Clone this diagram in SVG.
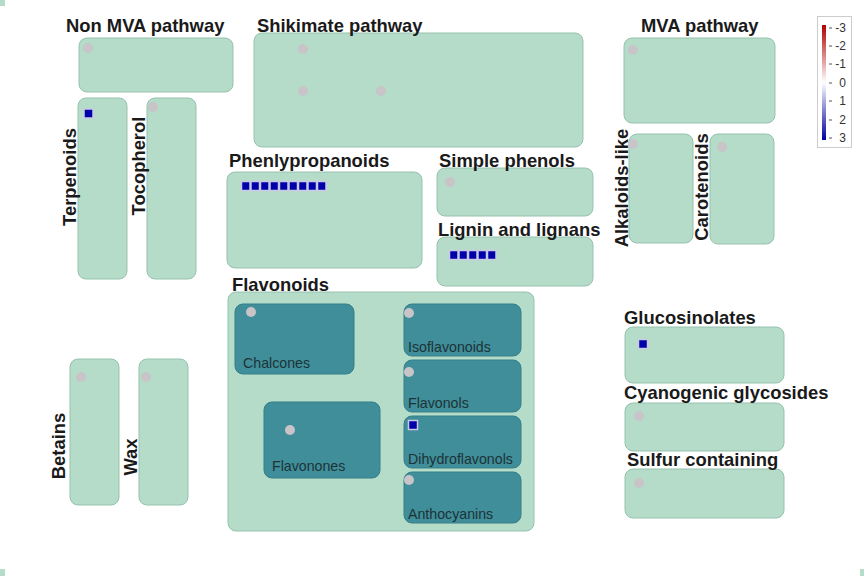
<svg xmlns="http://www.w3.org/2000/svg" width="864" height="576" viewBox="0 0 864 576">
<style>
.box{fill:#b4dcc8;stroke:#97c2ae;stroke-width:1}
.dark{fill:#3f8e99;stroke:#367f8a;stroke-width:1}
.t{font-family:"Liberation Sans",Arial,sans-serif;font-weight:bold;font-size:18.4px;fill:#1a1a1a}
.s{font-family:"Liberation Sans",Arial,sans-serif;font-size:14.2px;fill:#1d3338}
.dot{fill:#c8c4c8}
.sq{fill:#0000a8;stroke:#c9c9e6;stroke-width:1.5}
.lg{font-family:"Liberation Sans",Arial,sans-serif;font-size:12px;fill:#333;text-anchor:end}
.tick{stroke:#555;stroke-width:1}
</style>
<defs>
<linearGradient id="grad" x1="0" y1="0" x2="0" y2="1">
<stop offset="0" stop-color="#b00000"/>
<stop offset="0.5" stop-color="#ffffff"/>
<stop offset="1" stop-color="#0000a0"/>
</linearGradient>
</defs>
<rect width="864" height="576" fill="#ffffff"/>
<rect x="0" y="0" width="5" height="6" fill="#b4dcc8"/>
<rect x="0" y="569" width="5" height="7" fill="#b4dcc8"/>
<rect x="860" y="569" width="4" height="7" fill="#b4dcc8"/>

<g id="connectors"></g>

<g id="non-mva">
<rect class="box" x="79" y="38" width="154" height="54" rx="8"/>
<text class="t" x="66" y="32">Non MVA pathway</text>
<circle class="dot" cx="88" cy="48" r="5"/>
</g>
<g id="terpenoids">
<rect class="box" x="78" y="98" width="49" height="181" rx="8"/>
<text class="t" transform="rotate(-90 76 177)" x="76" y="177" text-anchor="middle">Terpenoids</text>
<rect class="sq" x="84" y="109" width="9" height="9"/>
</g>
<g id="tocopherol">
<rect class="box" x="147" y="98" width="49" height="181" rx="8"/>
<text class="t" transform="rotate(-90 145 166)" x="145" y="166" text-anchor="middle">Tocopherol</text>
<circle class="dot" cx="153" cy="107" r="5"/>
</g>
<g id="shikimate">
<rect class="box" x="254" y="33" width="329" height="114" rx="8"/>
<text class="t" x="257" y="32">Shikimate pathway</text>
<circle class="dot" cx="303" cy="49" r="5"/>
<circle class="dot" cx="303" cy="91" r="5"/>
<circle class="dot" cx="381" cy="91" r="5"/>
</g>
<g id="mva">
<rect class="box" x="624" y="38" width="151" height="85" rx="8"/>
<text class="t" x="641" y="32">MVA pathway</text>
<circle class="dot" cx="633" cy="50" r="5"/>
</g>
<g id="alkaloids">
<rect class="box" x="629" y="134" width="64" height="109" rx="8"/>
<text class="t" transform="rotate(-90 628 188)" x="628" y="188" text-anchor="middle">Alkaloids-like</text>
<circle class="dot" cx="633" cy="144" r="5"/>
</g>
<g id="carotenoids">
<rect class="box" x="710" y="134" width="64" height="110" rx="8"/>
<text class="t" transform="rotate(-90 708 187)" x="708" y="187" text-anchor="middle">Carotenoids</text>
<circle class="dot" cx="722" cy="147" r="5"/>
</g>
<g id="phenylpropanoids">
<rect class="box" x="227" y="172" width="195" height="96" rx="8"/>
<text class="t" x="229" y="167">Phenlypropanoids</text>
<rect class="sq" x="241.5" y="181.5" width="8.5" height="9"/>
<rect class="sq" x="251" y="181.5" width="8.5" height="9"/>
<rect class="sq" x="260.5" y="181.5" width="8.5" height="9"/>
<rect class="sq" x="270" y="181.5" width="8.5" height="9"/>
<rect class="sq" x="279.5" y="181.5" width="8.5" height="9"/>
<rect class="sq" x="289" y="181.5" width="8.5" height="9"/>
<rect class="sq" x="298.5" y="181.5" width="8.5" height="9"/>
<rect class="sq" x="308" y="181.5" width="8.5" height="9"/>
<rect class="sq" x="317.5" y="181.5" width="8.5" height="9"/>
</g>
<g id="simple-phenols">
<rect class="box" x="437" y="168" width="156" height="48" rx="8"/>
<text class="t" x="439" y="167">Simple phenols</text>
<circle class="dot" cx="450" cy="182" r="5"/>
</g>
<g id="lignin">
<rect class="box" x="437" y="237" width="156" height="49" rx="8"/>
<text class="t" x="438" y="236">Lignin and lignans</text>
<rect class="sq" x="449.5" y="250.5" width="8.5" height="9"/>
<rect class="sq" x="459" y="250.5" width="8.5" height="9"/>
<rect class="sq" x="468.5" y="250.5" width="8.5" height="9"/>
<rect class="sq" x="478" y="250.5" width="8.5" height="9"/>
<rect class="sq" x="487.5" y="250.5" width="8.5" height="9"/>
</g>
<g id="flavonoids">
<rect class="box" x="228" y="292" width="306" height="239" rx="8"/>
<text class="t" x="232" y="291">Flavonoids</text>
</g>
<g id="chalcones">
<rect class="dark" x="235" y="304" width="119" height="70" rx="8"/>
<text class="s" x="243" y="368">Chalcones</text>
<circle class="dot" cx="251" cy="312" r="5"/>
</g>
<g id="flavonones">
<rect class="dark" x="264" y="402" width="116" height="76" rx="8"/>
<text class="s" x="272" y="471">Flavonones</text>
<circle class="dot" cx="290" cy="430" r="5"/>
</g>
<g id="isoflavonoids">
<rect class="dark" x="404" y="304" width="117" height="52" rx="8"/>
<text class="s" x="408" y="352">Isoflavonoids</text>
<circle class="dot" cx="409" cy="313" r="5"/>
</g>
<g id="flavonols">
<rect class="dark" x="404" y="360" width="117" height="52" rx="8"/>
<text class="s" x="408" y="408">Flavonols</text>
<circle class="dot" cx="409" cy="372" r="5"/>
</g>
<g id="dihydroflavonols">
<rect class="dark" x="404" y="416" width="117" height="52" rx="8"/>
<text class="s" x="408" y="464">Dihydroflavonols</text>
<rect class="sq" x="408.5" y="420.5" width="9" height="9"/>
</g>
<g id="anthocyanins">
<rect class="dark" x="404" y="472" width="117" height="51" rx="8"/>
<text class="s" x="408" y="519">Anthocyanins</text>
<circle class="dot" cx="409" cy="480" r="5"/>
</g>
<g id="glucosinolates">
<rect class="box" x="625" y="327" width="159" height="56" rx="8"/>
<text class="t" x="624" y="324">Glucosinolates</text>
<rect class="sq" x="638.5" y="339.5" width="9" height="9"/>
</g>
<g id="cyanogenic">
<rect class="box" x="625" y="403" width="159" height="48" rx="8"/>
<text class="t" x="624" y="399">Cyanogenic glycosides</text>
<circle class="dot" cx="639" cy="416" r="5"/>
</g>
<g id="sulfur">
<rect class="box" x="625" y="469" width="159" height="49" rx="8"/>
<text class="t" x="627" y="466">Sulfur containing</text>
<circle class="dot" cx="639" cy="483" r="5"/>
</g>
<g id="betains">
<rect class="box" x="70" y="359" width="49" height="146" rx="8"/>
<text class="t" transform="rotate(-90 65 446)" x="65" y="446" text-anchor="middle">Betains</text>
<circle class="dot" cx="81" cy="377" r="5"/>
</g>
<g id="wax">
<rect class="box" x="139" y="359" width="49" height="146" rx="8"/>
<text class="t" transform="rotate(-90 137 457)" x="137" y="457" text-anchor="middle">Wax</text>
<circle class="dot" cx="146" cy="377" r="5"/>
</g>
<g id="legend">
<rect x="817.5" y="16.5" width="34" height="131" fill="#ffffff" stroke="#cccccc" stroke-width="1"/>
<rect x="822" y="25" width="4" height="115" fill="url(#grad)"/>
<line class="tick" x1="829" y1="28" x2="832" y2="28"/>
<line class="tick" x1="829" y1="46" x2="832" y2="46"/>
<line class="tick" x1="829" y1="64" x2="832" y2="64"/>
<line class="tick" x1="829" y1="83" x2="832" y2="83"/>
<line class="tick" x1="829" y1="101" x2="832" y2="101"/>
<line class="tick" x1="829" y1="120" x2="832" y2="120"/>
<line class="tick" x1="829" y1="138" x2="832" y2="138"/>
<text class="lg" x="846" y="32">-3</text>
<text class="lg" x="846" y="50">-2</text>
<text class="lg" x="846" y="68">-1</text>
<text class="lg" x="846" y="87">0</text>
<text class="lg" x="846" y="105">1</text>
<text class="lg" x="846" y="124">2</text>
<text class="lg" x="846" y="142">3</text>
</g>
</svg>
